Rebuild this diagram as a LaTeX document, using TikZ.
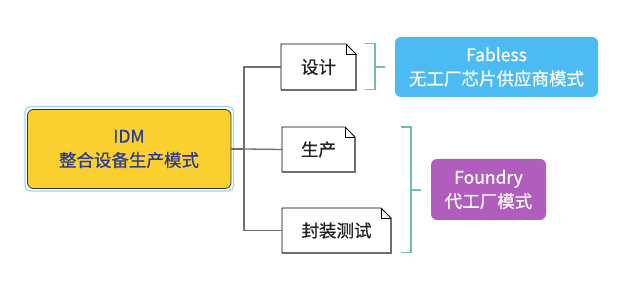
\documentclass[tikz,border=0pt]{standalone}
\usepackage{fontspec}
\setmainfont{Noto Sans CJK SC}[FakeBold=0.5,BoldFont=Noto Sans CJK SC]
\definecolor{idmfill}{HTML}{F9D030}
\definecolor{idmtext}{HTML}{2B3990}
\definecolor{selblue}{HTML}{9BD8F8}
\definecolor{linegray}{HTML}{6E6E6E}
\definecolor{brk}{HTML}{6CBFB3}
\definecolor{fabfill}{HTML}{4CBBF3}
\definecolor{foufill}{HTML}{B05DBE}
\definecolor{notetext}{HTML}{222222}
\begin{document}
\begin{tikzpicture}[x=1pt,y=-1pt,
  conn/.style={draw=linegray,line width=1.3pt},
  brkline/.style={draw=brk,line width=1.4pt},
  txt/.style={font=\fontsize{17.5}{24}\selectfont\bfseries,align=center,inner sep=0pt},
  rbox/.style={rounded corners=6pt}]
\useasboundingbox (0,0) rectangle (627,291);
% IDM box
\draw[selblue,line width=1.2pt,rounded corners=5pt] (25,106.5) rectangle (233.5,191);
\draw[fill=idmfill,draw=black!80,line width=0.8pt,rounded corners=6pt] (27.5,109.5) rectangle (231,188.5);
\node[txt,text=idmtext] (idm) at (129,149) {IDM\\整合设备生产模式};
\coordinate (idmR) at (231,149);
% note boxes
\newcommand{\notebox}[5]{% name, x1,y1,x2,y2
  \fill[white] (#2,#3) -- (#4-10,#3) -- (#4,#3+10) -- (#4,#5) -- (#2,#5) -- cycle;
  \draw[linegray,line width=1.8pt] (#4,#3+10) -- (#4,#5) -- (#2,#5);
  \draw[black,line width=0.9pt] (#2,#5) -- (#2,#3) -- (#4-10,#3) -- (#4,#3+10);
  \draw[black,line width=0.7pt] (#4-10,#3) -- (#4-10,#3+10) -- (#4,#3+10);
  \coordinate (#1) at ({(#2+#4)/2},{(#3+#5)/2});
  \coordinate (#1L) at (#2,{(#3+#5)/2});
}
\notebox{sj}{281}{44}{356}{90}
\notebox{sc}{282}{127}{355}{172}
\notebox{fz}{282}{208}{391}{253}
\node[txt,text=notetext] (sjt) at (sj) {设计};
\node[txt,text=notetext] (sct) at (sc) {生产};
\node[txt,text=notetext] (fzt) at (fz) {封装测试};
% connectors
\coordinate (tTop) at (244,67);
\coordinate (tBot) at (244,230.5);
\coordinate (tMid) at (244,149);
\draw[conn] (idmR) -- (tMid);
\draw[conn] (sjL) -| (tTop) -- (tMid) -- (tBot) -- (fzL);
\draw[conn] (tMid) -- (scL);
% brackets
\coordinate (b1a) at (365,43.5);
\coordinate (b1b) at (365,89.5);
\coordinate (b1m) at (375,67);
\coordinate (b1t) at (385,67);
\draw[brkline] (b1a) -- (375,43.5) -- (375,89.5) -- (b1b);
\draw[brkline] (b1m) -- (b1t);
\coordinate (b2a) at (401,127);
\coordinate (b2b) at (401,252.5);
\coordinate (b2m) at (411,190);
\coordinate (b2t) at (421,190);
\draw[brkline] (b2a) -- (411,127) -- (411,252.5) -- (b2b);
\draw[brkline] (b2m) -- (b2t);
% result boxes
\fill[fabfill,rbox] (395,37) rectangle (598,97);
\node[txt,text=white] (fab) at (496.5,67) {Fabless\\无工厂芯片供应商模式};
\fill[foufill,rbox] (431,159) rectangle (546,220);
\node[txt,text=white] (fou) at (488.5,189.5) {Foundry\\代工厂模式};
\end{tikzpicture}
\end{document}
